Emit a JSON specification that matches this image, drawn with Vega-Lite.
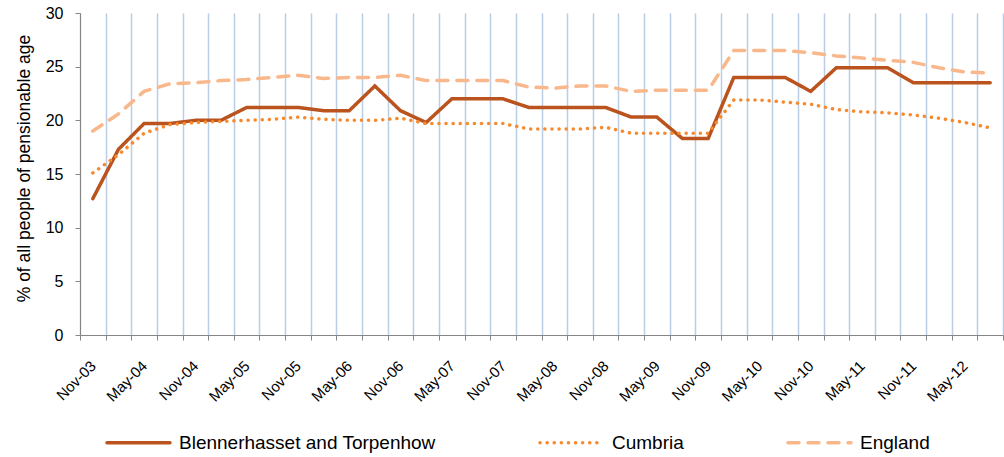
{
  "$schema": "https://vega.github.io/schema/vega-lite/v6.json",
  "width": 923,
  "height": 322,
  "autosize": {"type": "none"},
  "padding": {"left": 80, "top": 13, "right": 1, "bottom": 122},
  "background": "white",
  "config": {
    "view": {"stroke": null},
    "font": "Liberation Sans",
    "axis": {"domainColor": "#868686", "tickColor": "#868686", "labelColor": "#000000", "titleColor": "#000000", "labelFont": "Liberation Sans", "titleFont": "Liberation Sans", "titleFontWeight": "normal"}
  },
  "data": {"values": [
    {"q":"Nov-03","s":"Blennerhasset and Torpenhow","v":12.7},{"q":"Feb-04","s":"Blennerhasset and Torpenhow","v":17.3},{"q":"May-04","s":"Blennerhasset and Torpenhow","v":19.7},{"q":"Aug-04","s":"Blennerhasset and Torpenhow","v":19.7},
    {"q":"Nov-04","s":"Blennerhasset and Torpenhow","v":20.0},{"q":"Feb-05","s":"Blennerhasset and Torpenhow","v":20.0},{"q":"May-05","s":"Blennerhasset and Torpenhow","v":21.2},{"q":"Aug-05","s":"Blennerhasset and Torpenhow","v":21.2},
    {"q":"Nov-05","s":"Blennerhasset and Torpenhow","v":21.2},{"q":"Feb-06","s":"Blennerhasset and Torpenhow","v":20.9},{"q":"May-06","s":"Blennerhasset and Torpenhow","v":20.9},{"q":"Aug-06","s":"Blennerhasset and Torpenhow","v":23.2},
    {"q":"Nov-06","s":"Blennerhasset and Torpenhow","v":20.9},{"q":"Feb-07","s":"Blennerhasset and Torpenhow","v":19.8},{"q":"May-07","s":"Blennerhasset and Torpenhow","v":22.0},{"q":"Aug-07","s":"Blennerhasset and Torpenhow","v":22.0},
    {"q":"Nov-07","s":"Blennerhasset and Torpenhow","v":22.0},{"q":"Feb-08","s":"Blennerhasset and Torpenhow","v":21.2},{"q":"May-08","s":"Blennerhasset and Torpenhow","v":21.2},{"q":"Aug-08","s":"Blennerhasset and Torpenhow","v":21.2},
    {"q":"Nov-08","s":"Blennerhasset and Torpenhow","v":21.2},{"q":"Feb-09","s":"Blennerhasset and Torpenhow","v":20.3},{"q":"May-09","s":"Blennerhasset and Torpenhow","v":20.3},{"q":"Aug-09","s":"Blennerhasset and Torpenhow","v":18.3},
    {"q":"Nov-09","s":"Blennerhasset and Torpenhow","v":18.3},{"q":"Feb-10","s":"Blennerhasset and Torpenhow","v":24.0},{"q":"May-10","s":"Blennerhasset and Torpenhow","v":24.0},{"q":"Aug-10","s":"Blennerhasset and Torpenhow","v":24.0},
    {"q":"Nov-10","s":"Blennerhasset and Torpenhow","v":22.7},{"q":"Feb-11","s":"Blennerhasset and Torpenhow","v":24.9},{"q":"May-11","s":"Blennerhasset and Torpenhow","v":24.9},{"q":"Aug-11","s":"Blennerhasset and Torpenhow","v":24.9},
    {"q":"Nov-11","s":"Blennerhasset and Torpenhow","v":23.5},{"q":"Feb-12","s":"Blennerhasset and Torpenhow","v":23.5},{"q":"May-12","s":"Blennerhasset and Torpenhow","v":23.5},{"q":"Aug-12","s":"Blennerhasset and Torpenhow","v":23.5},

    {"q":"Nov-03","s":"Cumbria","v":15.1},{"q":"Feb-04","s":"Cumbria","v":16.8},{"q":"May-04","s":"Cumbria","v":18.8},{"q":"Aug-04","s":"Cumbria","v":19.6},
    {"q":"Nov-04","s":"Cumbria","v":19.8},{"q":"Feb-05","s":"Cumbria","v":19.9},{"q":"May-05","s":"Cumbria","v":20.0},{"q":"Aug-05","s":"Cumbria","v":20.1},
    {"q":"Nov-05","s":"Cumbria","v":20.3},{"q":"Feb-06","s":"Cumbria","v":20.1},{"q":"May-06","s":"Cumbria","v":20.0},{"q":"Aug-06","s":"Cumbria","v":20.0},
    {"q":"Nov-06","s":"Cumbria","v":20.2},{"q":"Feb-07","s":"Cumbria","v":19.7},{"q":"May-07","s":"Cumbria","v":19.7},{"q":"Aug-07","s":"Cumbria","v":19.7},
    {"q":"Nov-07","s":"Cumbria","v":19.7},{"q":"Feb-08","s":"Cumbria","v":19.2},{"q":"May-08","s":"Cumbria","v":19.2},{"q":"Aug-08","s":"Cumbria","v":19.2},
    {"q":"Nov-08","s":"Cumbria","v":19.35},{"q":"Feb-09","s":"Cumbria","v":18.8},{"q":"May-09","s":"Cumbria","v":18.8},{"q":"Aug-09","s":"Cumbria","v":18.8},
    {"q":"Nov-09","s":"Cumbria","v":18.8},{"q":"Feb-10","s":"Cumbria","v":21.9},{"q":"May-10","s":"Cumbria","v":21.9},{"q":"Aug-10","s":"Cumbria","v":21.7},
    {"q":"Nov-10","s":"Cumbria","v":21.5},{"q":"Feb-11","s":"Cumbria","v":21.0},{"q":"May-11","s":"Cumbria","v":20.8},{"q":"Aug-11","s":"Cumbria","v":20.7},
    {"q":"Nov-11","s":"Cumbria","v":20.5},{"q":"Feb-12","s":"Cumbria","v":20.2},{"q":"May-12","s":"Cumbria","v":19.8},{"q":"Aug-12","s":"Cumbria","v":19.3},

    {"q":"Nov-03","s":"England","v":19.0},{"q":"Feb-04","s":"England","v":20.6},{"q":"May-04","s":"England","v":22.7},{"q":"Aug-04","s":"England","v":23.4},
    {"q":"Nov-04","s":"England","v":23.5},{"q":"Feb-05","s":"England","v":23.7},{"q":"May-05","s":"England","v":23.8},{"q":"Aug-05","s":"England","v":24.0},
    {"q":"Nov-05","s":"England","v":24.2},{"q":"Feb-06","s":"England","v":23.9},{"q":"May-06","s":"England","v":24.0},{"q":"Aug-06","s":"England","v":24.0},
    {"q":"Nov-06","s":"England","v":24.2},{"q":"Feb-07","s":"England","v":23.7},{"q":"May-07","s":"England","v":23.7},{"q":"Aug-07","s":"England","v":23.7},
    {"q":"Nov-07","s":"England","v":23.7},{"q":"Feb-08","s":"England","v":23.1},{"q":"May-08","s":"England","v":23.0},{"q":"Aug-08","s":"England","v":23.2},
    {"q":"Nov-08","s":"England","v":23.2},{"q":"Feb-09","s":"England","v":22.7},{"q":"May-09","s":"England","v":22.8},{"q":"Aug-09","s":"England","v":22.8},
    {"q":"Nov-09","s":"England","v":22.8},{"q":"Feb-10","s":"England","v":26.5},{"q":"May-10","s":"England","v":26.5},{"q":"Aug-10","s":"England","v":26.5},
    {"q":"Nov-10","s":"England","v":26.3},{"q":"Feb-11","s":"England","v":26.0},{"q":"May-11","s":"England","v":25.8},{"q":"Aug-11","s":"England","v":25.6},
    {"q":"Nov-11","s":"England","v":25.4},{"q":"Feb-12","s":"England","v":24.9},{"q":"May-12","s":"England","v":24.5},{"q":"Aug-12","s":"England","v":24.4}
  ]},
  "mark": {"type": "line", "strokeWidth": 3.5, "strokeCap": "round", "strokeJoin": "miter"},
  "encoding": {
    "x": {
      "field": "q", "type": "ordinal", "sort": null, "bandPosition": 0.5,
      "scale": {"type": "band", "paddingInner": 0, "paddingOuter": 0},
      "axis": {
        "title": null, "tickBand": "extent", "grid": true, "gridColor": "#B9CDE5", "gridWidth": 1.5,
        "tickSize": 5, "labelAngle": -45, "labelAlign": "right", "labelBaseline": "middle", "labelFontSize": 15, "labelPadding": 23,
        "labelExpr": "(slice(datum.label,0,3)=='Nov'||slice(datum.label,0,3)=='May') ? datum.label : ''"
      }
    },
    "y": {
      "field": "v", "type": "quantitative",
      "scale": {"domain": [0, 30]},
      "axis": {"title": "% of all people of pensionable age", "titleFontSize": 17.5, "titleAngle": 270, "titleBaseline": "middle", "titleAlign": "center", "titleX": -56, "titleY": 155, "grid": false, "values": [0,5,10,15,20,25,30], "tickSize": 5, "labelFontSize": 16, "labelPadding": 12}
    },
    "color": {
      "field": "s", "type": "nominal",
      "scale": {"domain": ["Blennerhasset and Torpenhow", "Cumbria", "England"], "range": ["#BA531D", "#F68A2C", "#F9B88C"]},
      "legend": {
        "title": null, "orient": "none", "legendX": 25, "legendY": 396, "direction": "horizontal", "columns": 3,
        "symbolType": "stroke", "symbolSize": 3969, "symbolStrokeWidth": 3.5, "labelFontSize": 19, "labelFont": "Liberation Sans", "labelLimit": 500,
        "labelOffset": 7, "columnPadding": 97, "padding": 0,
        "encode": {"symbols": {"update": {"strokeCap": {"value": "round"}}}}
      }
    },
    "strokeDash": {
      "field": "s", "type": "nominal",
      "scale": {"domain": ["Blennerhasset and Torpenhow", "Cumbria", "England"], "range": [[1, 0], [0.1, 7], [11, 9]]},
      "legend": null
    }
  }
}
